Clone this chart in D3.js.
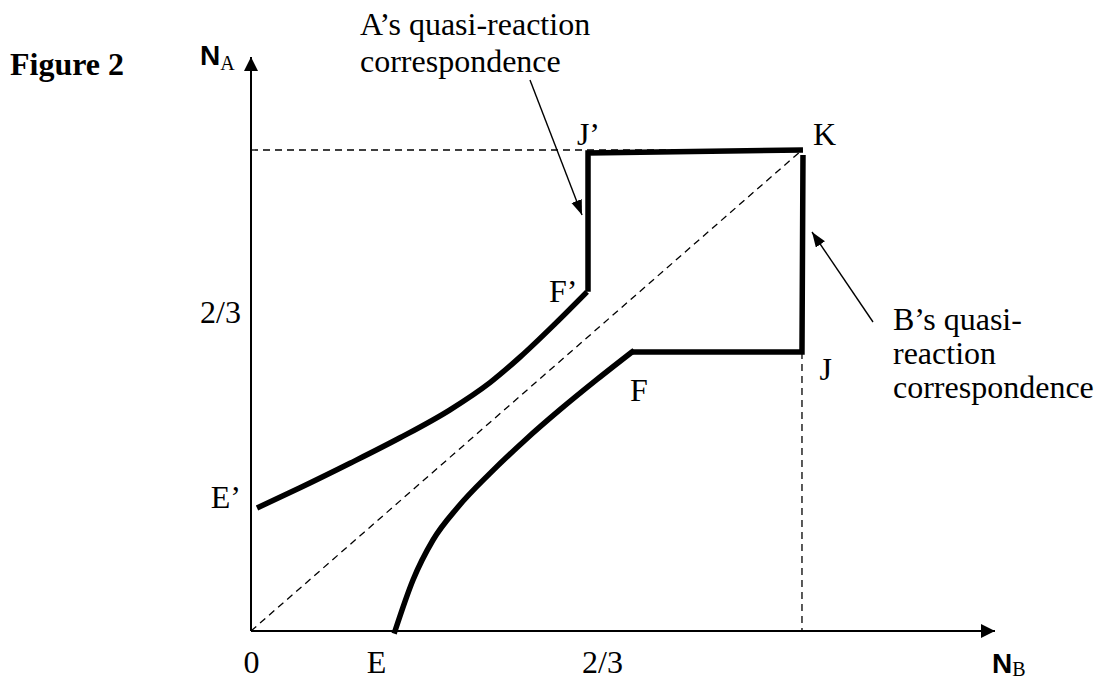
<!DOCTYPE html>
<html>
<head>
<meta charset="utf-8">
<script src="https://cdn.jsdelivr.net/npm/d3@7"></script>
<style>
  body { margin: 0; background: #fff; }
  text { font-family: "Liberation Serif", "Times New Roman", serif; fill: #000; }
</style>
</head>
<body>
<script>
// values in chart units (0..1 = origin..K roughly)
const aCurveX = [0.0114, 0.0931, 0.1880, 0.2830, 0.3780, 0.4539, 0.5109, 0.5774, 0.6382];
const aCurveY = [0.2575, 0.2997, 0.3510, 0.4044, 0.4630, 0.5199, 0.5733, 0.6429, 0.7099];
const aStep = [[0.6401, 0.7099], [0.6401, 1.0005], [1.0484, 1.0068]];

const bCurveX = [0.2735, 0.3077, 0.3457, 0.3932, 0.4539, 0.5204, 0.5869, 0.6572, 0.7236];
const bCurveY = [0, 0.1068, 0.1905, 0.2596, 0.3299, 0.3994, 0.4632, 0.5266, 0.584];
const bStep = [[0.7236, 0.584], [1.0465, 0.584], [1.0484, 0.9963]];

const pointK = [1.0465, 1.0068];
const pointJ = [1.0465, 0.584];

const xTickVals = [0, 0.2374, 2 / 3];
const xTickLabels = ["0", "E", "2/3"];
const yTickVals = [2 / 3, 0.281];
const yTickLabels = ["2/3", "E’"];

const pointLabels = [
  { t: "J’", x: 0.619, y: 1.017 },
  { t: "K", x: 1.0674, y: 1.017 },
  { t: "F’", x: 0.566, y: 0.6886 },
  { t: "F", x: 0.7198, y: 0.4814 },
  { t: "J", x: 1.0798, y: 0.5254 }
];

const noteA = ["A’s quasi-reaction", "correspondence"];
const noteAPos = [0.207, 1.2473];
const noteB = ["B’s quasi-", "reaction", "correspondence"];
const noteBPos = [1.2194, 0.630];
const arrowA = [[0.5299, 1.1533], [0.6287, 0.8707]];
const arrowB = [[1.1814, 0.6468], [1.0655, 0.8352]];

const xAxisEnd = 1.4131;
const yAxisEnd = 1.2015;

const width = 1100, height = 681;
const svg = d3.select("body").append("svg")
  .attr("width", width)
  .attr("height", height);

const x = d3.scaleLinear().domain([0, 1]).range([251, 777.5]);
const y = d3.scaleLinear().domain([0, 1]).range([631, 153.25]);

const defs = svg.append("defs");
defs.append("marker")
  .attr("id", "axisHead")
  .attr("markerUnits", "userSpaceOnUse")
  .attr("markerWidth", 15).attr("markerHeight", 15)
  .attr("refX", 14).attr("refY", 7)
  .attr("orient", "auto")
  .append("path").attr("d", "M0,0L14,7L0,14Z").attr("fill", "#000");
defs.append("marker")
  .attr("id", "noteHead")
  .attr("markerUnits", "userSpaceOnUse")
  .attr("markerWidth", 16).attr("markerHeight", 12)
  .attr("refX", 15).attr("refY", 5.5)
  .attr("orient", "auto")
  .append("path").attr("d", "M0,0L15,5.5L0,11Z").attr("fill", "#000");

// dashed guides
const dashed = svg.append("g")
  .attr("fill", "none")
  .attr("stroke", "#000")
  .attr("stroke-width", 1.3)
  .attr("stroke-dasharray", "7,5");
dashed.append("line")
  .attr("x1", x(0)).attr("y1", y(pointK[1]))
  .attr("x2", x(pointK[0])).attr("y2", y(pointK[1]));
dashed.append("line")
  .attr("x1", x(0)).attr("y1", y(0))
  .attr("x2", x(pointK[0])).attr("y2", y(pointK[1]));
dashed.append("line")
  .attr("x1", x(pointJ[0])).attr("y1", y(pointJ[1]))
  .attr("x2", x(pointJ[0])).attr("y2", y(0));

// axes
svg.append("line")
  .attr("x1", x(0)).attr("y1", y(0))
  .attr("x2", x(xAxisEnd)).attr("y2", y(0))
  .attr("stroke", "#000").attr("stroke-width", 2)
  .attr("marker-end", "url(#axisHead)");
svg.append("line")
  .attr("x1", x(0)).attr("y1", y(0))
  .attr("x2", x(0)).attr("y2", y(yAxisEnd))
  .attr("stroke", "#000").attr("stroke-width", 2)
  .attr("marker-end", "url(#axisHead)");

const xAxis = svg.append("g")
  .attr("transform", `translate(0,${y(0)})`)
  .call(d3.axisBottom(x).tickValues(xTickVals)
    .tickFormat((d, i) => xTickLabels[i]).tickSize(0).tickPadding(19));
xAxis.select(".domain").remove();
xAxis.attr("font-size", 32).attr("font-family", "Liberation Serif, Times New Roman, serif");

const yAxis = svg.append("g")
  .attr("transform", `translate(${x(0)},0)`)
  .call(d3.axisLeft(y).tickValues(yTickVals)
    .tickFormat((d, i) => yTickLabels[i]).tickSize(0).tickPadding(10));
yAxis.select(".domain").remove();
yAxis.attr("font-size", 32).attr("font-family", "Liberation Serif, Times New Roman, serif");

// quasi-reaction correspondences
const curve = d3.line().x(d => x(d[0])).y(d => y(d[1])).curve(d3.curveMonotoneX);
const poly = d3.line().x(d => x(d[0])).y(d => y(d[1]));

const thick = svg.append("g")
  .attr("fill", "none")
  .attr("stroke", "#000")
  .attr("stroke-width", 5.5)
  .attr("stroke-linejoin", "miter");

thick.append("path").attr("d", curve(d3.zip(aCurveX, aCurveY)));
thick.append("path").attr("d", poly(aStep));
thick.append("path").attr("d", curve(d3.zip(bCurveX, bCurveY)))
  .attr("stroke-linecap", "square");
thick.append("path").attr("d", poly(bStep));

// point labels
svg.append("g").selectAll("text")
  .data(pointLabels)
  .join("text")
  .attr("x", d => x(d.x))
  .attr("y", d => y(d.y))
  .attr("font-size", 32)
  .text(d => d.t);

// annotations
svg.append("text")
  .attr("x", x(noteAPos[0])).attr("y", y(noteAPos[1]))
  .attr("font-size", 32)
  .selectAll("tspan").data(noteA).join("tspan")
  .attr("x", x(noteAPos[0]))
  .attr("dy", (d, i) => i ? 37 : 0)
  .text(d => d);

svg.append("text")
  .attr("x", x(noteBPos[0])).attr("y", y(noteBPos[1]))
  .attr("font-size", 32)
  .selectAll("tspan").data(noteB).join("tspan")
  .attr("x", x(noteBPos[0]))
  .attr("dy", (d, i) => i ? 34 : 0)
  .text(d => d);

[arrowA, arrowB].forEach(a => {
  svg.append("line")
    .attr("x1", x(a[0][0])).attr("y1", y(a[0][1]))
    .attr("x2", x(a[1][0])).attr("y2", y(a[1][1]))
    .attr("stroke", "#000").attr("stroke-width", 1.4)
    .attr("marker-end", "url(#noteHead)");
});

// titles
svg.append("text")
  .attr("x", 10).attr("y", 75)
  .attr("font-size", 32).attr("font-weight", "bold")
  .text("Figure 2");

const na = svg.append("text").attr("x", 200).attr("y", 65);
na.append("tspan")
  .style("font-family", "Liberation Sans, Arial, sans-serif")
  .attr("font-weight", "bold").attr("font-size", 28).text("N");
na.append("tspan").attr("font-size", 20).attr("dy", 5).text("A");

const nb = svg.append("text").attr("x", 992).attr("y", 673);
nb.append("tspan")
  .style("font-family", "Liberation Sans, Arial, sans-serif")
  .attr("font-weight", "bold").attr("font-size", 28).text("N");
nb.append("tspan").attr("font-size", 20).attr("dy", 3).text("B");
</script>
</body>
</html>
